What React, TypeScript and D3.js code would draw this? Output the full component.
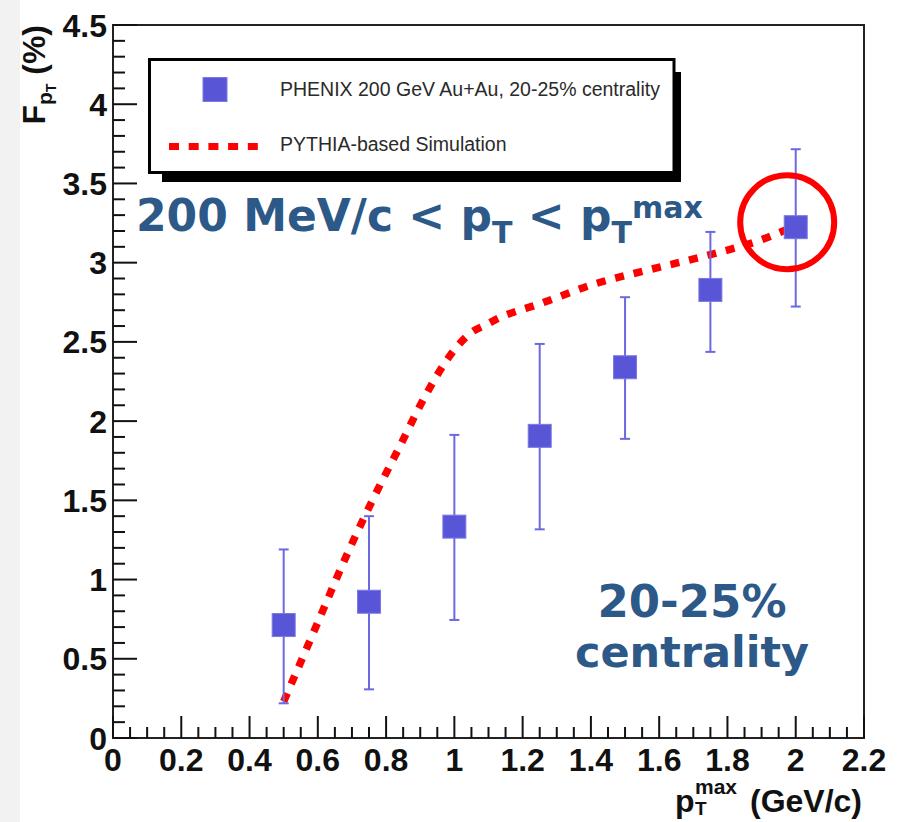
import React from "react";
import * as d3 from "d3";

// ---- data ----
const ptMax = [0.5, 0.75, 1.0, 1.25, 1.5, 1.75, 2.0];
const fpt = [0.713, 0.86, 1.334, 1.907, 2.34, 2.828, 3.224];
const errHigh = [1.19, 1.4, 1.913, 2.487, 2.782, 3.194, 3.716];
const errLow = [0.219, 0.307, 0.745, 1.317, 1.888, 2.437, 2.723];

const simX = [0.5, 0.55, 0.6, 0.69, 0.76, 0.84, 0.915, 1.0, 1.05, 1.09, 1.13, 1.25, 1.41, 1.57, 1.74, 1.9, 1.99];
const simY = [0.23, 0.48, 0.73, 1.18, 1.5, 1.84, 2.16, 2.45, 2.56, 2.605, 2.65, 2.74, 2.865, 2.955, 3.045, 3.145, 3.225];

const xTicks = [0, 0.2, 0.4, 0.6, 0.8, 1, 1.2, 1.4, 1.6, 1.8, 2, 2.2];
const yTicks = [0, 0.5, 1, 1.5, 2, 2.5, 3, 3.5, 4, 4.5];

const legendLabels = ["PHENIX 200 GeV Au+Au, 20-25% centrality", "PYTHIA-based Simulation"];
const highlight = { x: 1.975, y: 3.255 };

const W = 899;
const H = 822;
const plot = { left: 113, right: 864, top: 25, bottom: 738 };

const BLUE = "#5856d6";
const ERR = "#6b69e0";
const ANN = "#2c5987";
const axisFont = "'Liberation Sans', Arial, Helvetica, sans-serif";
const annFont = "'DejaVu Sans', Verdana, sans-serif";

export default function App() {
  const x = d3.scaleLinear().domain([0, 2.2]).range([plot.left, plot.right]);
  const y = d3.scaleLinear().domain([0, 4.5]).range([plot.bottom, plot.top]);

  const xMinor = d3.range(0, 2.2001, 0.05).filter((v) => Math.abs(v / 0.2 - Math.round(v / 0.2)) > 1e-6);
  const yMinor = d3.range(0, 4.5001, 0.1).filter((v) => Math.abs(v / 0.5 - Math.round(v / 0.5)) > 1e-6);

  const line = d3
    .line<number>()
    .x((_, i) => x(simX[i]))
    .y((d) => y(d))
    .curve(d3.curveMonotoneX);

  const sq = 23;

  return (
    <svg
      width={W}
      height={H}
      style={{ position: "absolute", left: 0, top: 0, background: "#fff" }}
    >
      <rect x={0} y={0} width={W} height={H} fill="#fff" />
      <rect x={0} y={0} width={20} height={H} fill="#f2f2f2" />

      {/* frame */}
      <rect
        x={plot.left}
        y={plot.top}
        width={plot.right - plot.left}
        height={plot.bottom - plot.top}
        fill="#fff"
        stroke="#222"
        strokeWidth={2}
      />

      {/* x ticks */}
      {xTicks.map((t) => (
        <line key={"xM" + t} x1={x(t)} x2={x(t)} y1={plot.bottom} y2={plot.bottom - 22} stroke="#111" strokeWidth={2} />
      ))}
      {xMinor.map((t) => (
        <line key={"xm" + t} x1={x(t)} x2={x(t)} y1={plot.bottom} y2={plot.bottom - 11} stroke="#111" strokeWidth={2} />
      ))}
      {/* y ticks */}
      {yTicks.map((t) => (
        <line key={"yM" + t} x1={plot.left} x2={plot.left + 24} y1={y(t)} y2={y(t)} stroke="#111" strokeWidth={2} />
      ))}
      {yMinor.map((t) => (
        <line key={"ym" + t} x1={plot.left} x2={plot.left + 12} y1={y(t)} y2={y(t)} stroke="#111" strokeWidth={2} />
      ))}

      {/* tick labels */}
      {xTicks.map((t) => (
        <text
          key={"xl" + t}
          x={x(t)}
          y={771}
          textAnchor="middle"
          fontFamily={axisFont}
          fontWeight="bold"
          fontSize={32}
          fill="#111"
        >
          {String(t)}
        </text>
      ))}
      {yTicks.map((t) => (
        <text
          key={"yl" + t}
          x={107}
          y={y(t)}
          dy="0.36em"
          textAnchor="end"
          fontFamily={axisFont}
          fontWeight="bold"
          fontSize={32}
          fill="#111"
        >
          {String(t)}
        </text>
      ))}

      {/* axis titles */}
      <g fontFamily={axisFont} fontWeight="bold" fill="#111">
        <text x={675} y={812} fontSize={32}>p</text>
        <text x={695} y={815} fontSize={19}>T</text>
        <text x={695} y={794} fontSize={21}>max</text>
        <text x={862} y={812} fontSize={32} textAnchor="end">(GeV/c)</text>
        <text transform="translate(45,25) rotate(-90)" textAnchor="end" fontSize={32} style={{ whiteSpace: "pre" }}>
          F<tspan fontSize={21} dy={7}>p</tspan>
          <tspan fontSize={14} dy={4}>T</tspan>
          <tspan fontSize={32} dy={-11}> (%)</tspan>
        </text>
      </g>

      {/* simulation curve */}
      <path
        d={line(simY) || ""}
        fill="none"
        stroke="#ff0000"
        strokeWidth={7.5}
        strokeDasharray="9 10"
      />

      {/* error bars */}
      {ptMax.map((p, i) => (
        <g key={"e" + i} stroke={ERR} strokeWidth={2}>
          <line x1={x(p)} x2={x(p)} y1={y(errLow[i])} y2={y(errHigh[i])} />
          <line x1={x(p) - 5} x2={x(p) + 5} y1={y(errLow[i])} y2={y(errLow[i])} />
          <line x1={x(p) - 5} x2={x(p) + 5} y1={y(errHigh[i])} y2={y(errHigh[i])} />
        </g>
      ))}
      {/* data points */}
      {ptMax.map((p, i) => (
        <rect
          key={"p" + i}
          x={x(p) - sq / 2}
          y={y(fpt[i]) - sq / 2}
          width={sq}
          height={sq}
          fill={BLUE}
          stroke="#7b79e6"
          strokeWidth={1}
        />
      ))}

      {/* highlight circle */}
      <circle cx={x(highlight.x)} cy={y(highlight.y)} r={47} fill="none" stroke="#ff0000" strokeWidth={6} />

      {/* legend */}
      <rect x={162} y={72} width={681 - 162} height={182 - 72} fill="#000" />
      <rect x={149.5} y={59.5} width={674 - 149.5} height={172.5 - 59.5} fill="#fff" stroke="#000" strokeWidth={3} />
      <rect x={215 - 12} y={89.5 - 12} width={24} height={24} fill={BLUE} stroke="#7b79e6" strokeWidth={1} />
      <line x1={169} x2={259} y1={146.5} y2={146.5} stroke="#ff0000" strokeWidth={7} strokeDasharray="10 9.7" />
      <g fontFamily={axisFont} fontSize={19.5} fill="#2a2a2a">
        <text x={280} y={96}>{legendLabels[0]}</text>
        <text x={280} y={151}>{legendLabels[1]}</text>
      </g>

      {/* annotations */}
      <g fontFamily={annFont} fontWeight="bold" fill={ANN}>
        <text x={136} y={231} fontSize={44} style={{ whiteSpace: "pre" }}>
          200 MeV/c {"<"} p<tspan fontSize={30} dy={12}>T</tspan>
          <tspan fontSize={44} dy={-12}> {"<"} p</tspan>
          <tspan fontSize={30} dy={12}>T</tspan>
          <tspan fontSize={30} dy={-25}>max</tspan>
        </text>
        <text x={692} y={617} fontSize={45} textAnchor="middle">20-25%</text>
        <text x={692} y={667} fontSize={43} textAnchor="middle">centrality</text>
      </g>
    </svg>
  );
}
